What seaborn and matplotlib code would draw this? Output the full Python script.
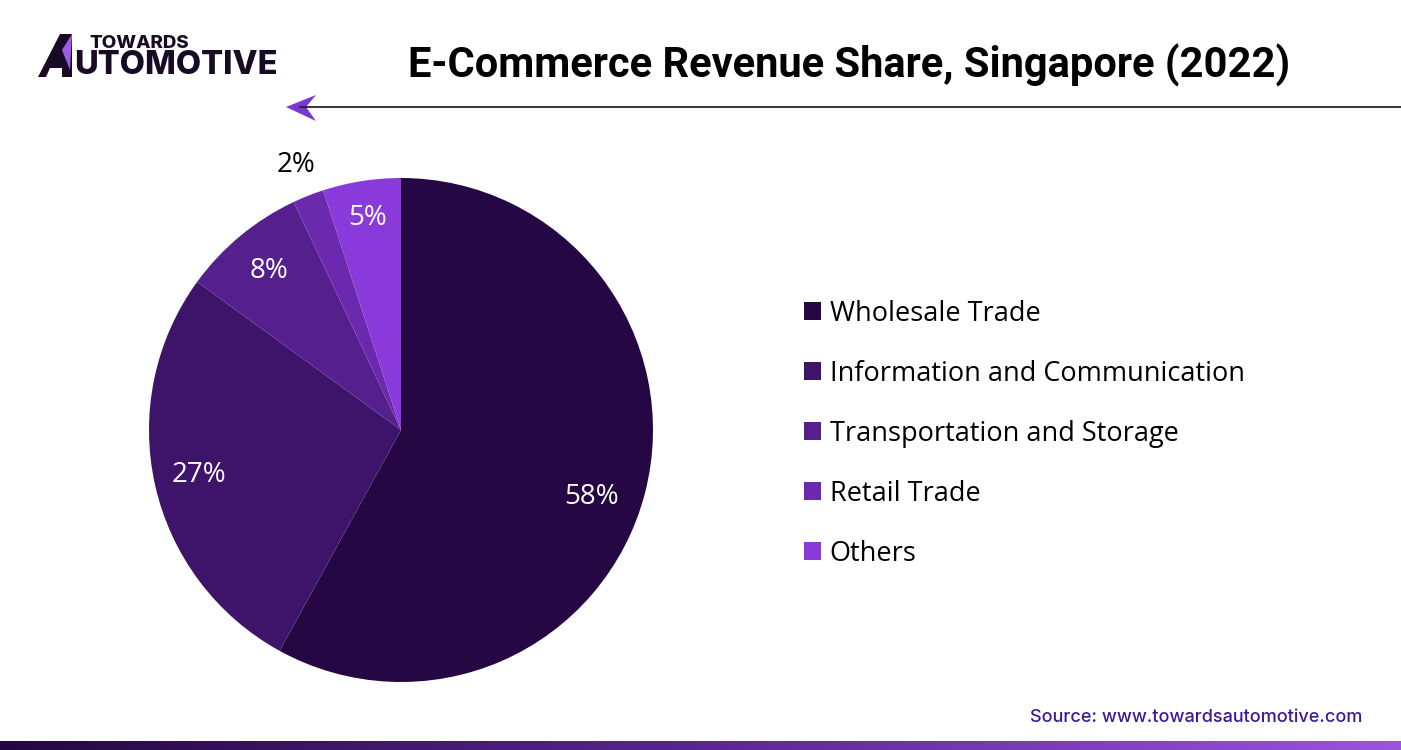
import numpy as np
import matplotlib
matplotlib.use("Agg")
import matplotlib.pyplot as plt
import seaborn as sns
from matplotlib.patches import Polygon, Rectangle
from matplotlib.lines import Line2D
from matplotlib.colors import LinearSegmentedColormap

categories = ["Wholesale Trade", "Information and Communication",
              "Transportation and Storage", "Retail Trade", "Others"]
shares = [58, 27, 8, 2, 5]
colors = ["#250843", "#3D1469", "#561F8E", "#6B29AE", "#8A3ADB"]

sns.set_theme(style="white")
plt.rcParams['font.family'] = ['Open Sans', 'DejaVu Sans']
plt.rcParams['text.color'] = 'black'

W, H = 1401, 750
fig = plt.figure(figsize=(W / 100, H / 100), dpi=100)
fig.patch.set_facecolor("white")

# pie axes: center (401,430), radius 252 px
cx, cy, r = 401, 430, 252
ax = fig.add_axes([(cx - r) / W, (H - cy - r) / H, 2 * r / W, 2 * r / H])
wedges, _ = ax.pie(shares, colors=colors, startangle=90, counterclock=False,
                   radius=1, wedgeprops=dict(linewidth=0))
ax.set_xlim(-1, 1)
ax.set_ylim(-1, 1)
ax.set_aspect("auto")
ax.axis("off")

label_r = [0.80, 0.82, 0.82, 1.13, 0.85]
label_shift = [-5, 0, 0, 0, 0]  # small angular nudges (degrees) as in reference
for w, v, lr, sh in zip(wedges, shares, label_r, label_shift):
    ang = np.deg2rad((w.theta1 + w.theta2) / 2 + sh)
    col = "black" if lr > 1 else "white"
    ax.text(lr * np.cos(ang), lr * np.sin(ang), f"{v}%", ha="center", va="center",
            fontsize=20, color=col, family=["Open Sans", "DejaVu Sans"])

# legend
handles = [Rectangle((0, 0), 1, 1, facecolor=c, edgecolor="none") for c in colors]
leg = fig.legend(handles, categories, loc="upper left",
                 bbox_to_anchor=(793 / W, 1 - 289 / H), frameon=False,
                 prop=dict(family=["Open Sans", "DejaVu Sans"], size=19.5),
                 handlelength=0.65, handleheight=0.65, handletextpad=0.3,
                 labelspacing=1.18, borderaxespad=0)
for t in leg.get_texts():
    t.set_color("black")

# title
fig.text(849 / W, 1 - 65 / H, "E-Commerce Revenue Share, Singapore (2022)",
         ha="center", va="center", fontsize=30, fontweight="bold",
         family=["Roboto", "DejaVu Sans"], color="black")

# arrow line
fig.add_artist(Line2D([300 / W, 1401 / W], [1 - 107 / H, 1 - 107 / H],
                      color="#222222", linewidth=1.3))
fig.add_artist(Polygon([[286 / W, 1 - 107 / H], [316 / W, 1 - 95 / H],
                        [306 / W, 1 - 107 / H], [316 / W, 1 - 121 / H]],
                       closed=True, facecolor="#7B35D6", edgecolor="none"))

# logo
fig.add_artist(Polygon([[38 / W, 1 - 77 / H], [60 / W, 1 - 34 / H], [72 / W, 1 - 34 / H],
                        [72 / W, 1 - 77 / H], [62 / W, 1 - 77 / H], [62 / W, 1 - 68 / H],
                        [50 / W, 1 - 68 / H], [46 / W, 1 - 77 / H]],
                       closed=True, facecolor="#1A0B24", edgecolor="none"))
fig.add_artist(Polygon([[62 / W, 1 - 50 / H], [72 / W, 1 - 34 / H], [70 / W, 1 - 70 / H]],
                       closed=True, facecolor="#9B5DE5", edgecolor="none"))
fig.text(89 / W, 1 - 44 / H, "TOWARDS", ha="left", va="center", fontsize=13.5,
         fontweight="heavy", family=["Inter", "DejaVu Sans"], color="#1A0B24")
fig.text(74 / W, 1 - 66 / H, "UTOMOTIVE", ha="left", va="center", fontsize=23.5,
         fontweight="heavy", family=["Inter", "DejaVu Sans"], color="#1A0B24")

# source
fig.text(1362 / W, 1 - 717 / H, "Source: www.towardsautomotive.com",
         ha="right", va="center", fontsize=13, fontweight="medium",
         family=["Inter", "DejaVu Sans"], color="#3A1A9A")

# bottom gradient bar
bax = fig.add_axes([0, 0, 1, 9 / H])
grad = np.linspace(0, 1, 256).reshape(1, -1)
cmap = LinearSegmentedColormap.from_list("g", ["#22083F", "#5A2690", "#9A55DE"])
bax.imshow(grad, aspect="auto", cmap=cmap, extent=[0, 1, 0, 1])
bax.axis("off")

fig.savefig("out.png", dpi=100, facecolor="white")
